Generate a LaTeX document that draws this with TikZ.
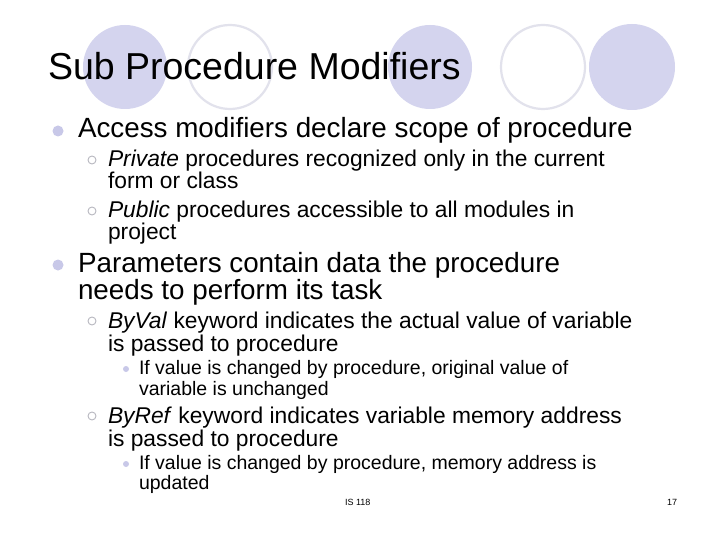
\documentclass[tikz,border=0pt]{standalone}
\usepackage{fontspec}
\setmainfont{Liberation Sans}
\definecolor{lav}{HTML}{D4D4EE}
\definecolor{lavline}{HTML}{E2E2EC}
\definecolor{bul}{HTML}{C8C8E8}
\definecolor{hol}{HTML}{B8B8C0}
\begin{document}
\begin{tikzpicture}[x=1pt,y=-1pt,
  t/.style={anchor=base west,inner sep=0pt,outer sep=0pt},
  oc/.style={draw=lavline,line width=2.2pt,fill=white},
  b1/.style={circle,fill=bul,minimum size=11pt,inner sep=0pt},
  b2/.style={circle,draw=hol,line width=0.9pt,minimum size=8pt,inner sep=0pt},
  b3/.style={circle,fill=bul,minimum size=6pt,inner sep=0pt}]
\useasboundingbox[fill=white] (0,0) rectangle (720,540);
\fill[lav] (125,67) circle (42);
\draw[oc] (230,67) circle (42);
\fill[lav] (430,67) circle (42);
\draw[oc] (543,67) circle (42);
\fill[lav] (632,67) circle (43);
\newcommand{\sx}{1.0}
\newcommand{\fa}{\fontsize{37.5}{37}\selectfont}
\newcommand{\fb}{\fontsize{27.8}{28}\selectfont}
\newcommand{\fc}{\fontsize{22.8}{23}\selectfont}
\newcommand{\fd}{\fontsize{19.5}{19}\selectfont}
\node[t] (title) at (48,80) {\scalebox{\sx}[1]{\fa Sub Procedure Modifiers}};
\node[b1] (ba) at (58,131) {};
\node[t] (a1) at (78,138) {\scalebox{\sx}[1]{\fb Access modifiers declare scope of procedure}};
\node[b2] (bp1) at (92,160) {};
\node[t] (p1) at (108,167) {\scalebox{\sx}[1]{\fc \textit{Private} procedures recognized only in the current}};
\node[t] (p1b) at (108,189) {\scalebox{\sx}[1]{\fc form or class}};
\node[b2] (bp2) at (92,211) {};
\node[t] (p2) at (108,218) {\scalebox{\sx}[1]{\fc \textit{Public} procedures accessible to all modules in}};
\node[t] (p2b) at (108,240) {\scalebox{\sx}[1]{\fc project}};
\node[b1] (bb) at (58,265) {};
\node[t] (q1) at (78,272) {\scalebox{\sx}[1]{\fb Parameters contain data the procedure}};
\node[t] (q1b) at (78,299) {\scalebox{\sx}[1]{\fb needs to perform its task}};
\node[b2] (bv) at (92,321) {};
\node[t] (v1) at (108,328) {\scalebox{\sx}[1]{\fc \textit{ByVal} keyword indicates the actual value of variable}};
\node[t] (v1b) at (108,351) {\scalebox{\sx}[1]{\fc is passed to procedure}};
\node[b3] (bv3) at (126,369) {};
\node[t] (v2) at (139,374) {\scalebox{\sx}[1]{\fd If value is changed by procedure, original value of}};
\node[t] (v2b) at (139,395) {\scalebox{\sx}[1]{\fd variable is unchanged}};
\node[b2] (br) at (92,416) {};
\node[t] (r1) at (108,423) {\scalebox{\sx}[1]{\fc \textit{ByRef} keyword indicates variable memory address}};
\node[t] (r1b) at (108,446) {\scalebox{\sx}[1]{\fc is passed to procedure}};
\node[b3] (br3) at (126,464) {};
\node[t] (r2) at (139,469) {\scalebox{\sx}[1]{\fd If value is changed by procedure, memory address is}};
\node[t] (r2b) at (139,489) {\scalebox{\sx}[1]{\fd updated}};
\node[t] (foot) at (345,505) {\fontsize{9}{9}\selectfont IS 118};
\node[t] (pg) at (667,505) {\fontsize{9}{9}\selectfont 17};
\end{tikzpicture}
\end{document}
